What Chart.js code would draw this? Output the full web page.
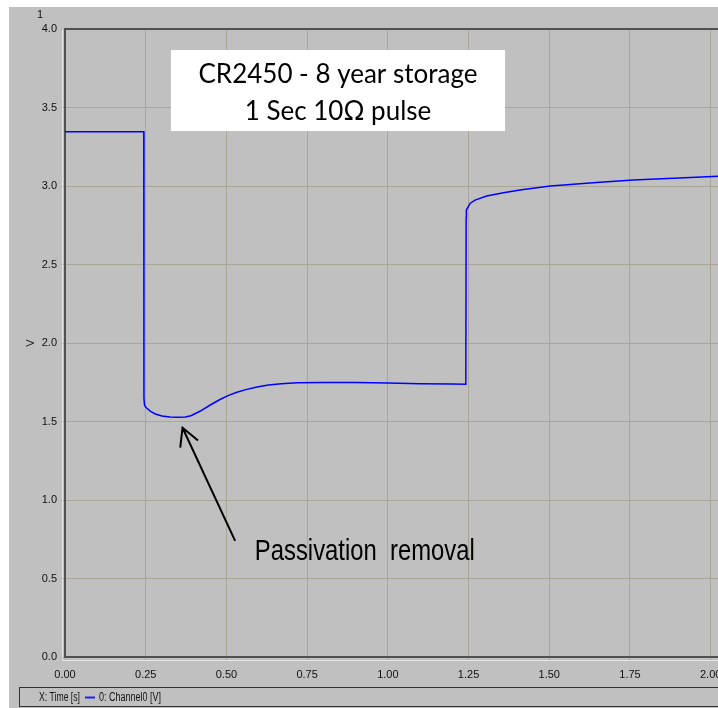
<!DOCTYPE html>
<html>
<head>
<meta charset="utf-8">
<script src="https://cdn.jsdelivr.net/npm/chart.js@4.4.1/dist/chart.umd.min.js"></script>
<style>
  html, body { margin: 0; padding: 0; background: #fff; overflow: hidden; }
</style>
</head>
<body>
<canvas id="pulseChart" width="718" height="708"></canvas>
<script>
// trace (time in s, voltage in V)
const timeS = [0, 0.244, 0.2445, 0.246, 0.2485, 0.253, 0.265, 0.28, 0.30, 0.325, 0.35, 0.372, 0.39, 0.418, 0.45, 0.48, 0.505, 0.53, 0.56, 0.595, 0.63, 0.67, 0.72, 0.80, 0.90, 1.00, 1.10, 1.20, 1.2415, 1.2425, 1.2433, 1.2546, 1.27, 1.306, 1.358, 1.409, 1.503, 1.657, 1.76, 1.884, 2.025];
const voltageV = [3.346, 3.346, 1.65, 1.61, 1.595, 1.586, 1.565, 1.548, 1.535, 1.528, 1.527, 1.529, 1.537, 1.565, 1.605, 1.64, 1.665, 1.685, 1.703, 1.72, 1.733, 1.741, 1.747, 1.748, 1.748, 1.745, 1.741, 1.739, 1.737, 2.80, 2.847, 2.889, 2.91, 2.936, 2.957, 2.975, 3.0, 3.024, 3.038, 3.049, 3.062];
const xTickValues = [0, 0.25, 0.5, 0.75, 1.0, 1.25, 1.5, 1.75, 2.0];
const yTickValues = [0, 0.5, 1.0, 1.5, 2.0, 2.5, 3.0, 3.5, 4.0];
const titleLines = ['CR2450 - 8 year storage', '1 Sec 10\u03A9 pulse'];
const noteText = 'Passivation  removal';

const bgGray = '#c0c0c0';
const gridColor = '#aaa696';
const tickFont = { family: '"Liberation Sans", Arial, sans-serif', size: 11 };

// draw text squeezed to a given width (the scope uses a narrow face)
function fitText(c, text, x, y, width) {
  const w = c.measureText(text).width;
  c.save();
  c.translate(x, y);
  c.scale(Math.min(1, width / w), 1);
  c.fillText(text, 0, 0);
  c.restore();
}

const scopeDecor = {
  id: 'scopeDecor',
  beforeDraw(chart) {
    const c = chart.ctx;
    c.save();
    c.fillStyle = '#fff';
    c.fillRect(0, 0, chart.width, chart.height);
    c.fillStyle = bgGray;
    c.fillRect(9, 7, chart.width - 9, chart.height - 7);
    c.restore();
  },
  beforeDatasetsDraw(chart) {
    const c = chart.ctx;
    const a = chart.chartArea;
    c.save();
    // light bevel lines
    c.strokeStyle = '#e4e4e4';
    c.lineWidth = 1;
    c.beginPath();
    c.moveTo(62.5, a.top);
    c.lineTo(62.5, a.bottom + 4);
    c.moveTo(62, a.bottom + 3.5);
    c.lineTo(a.right, a.bottom + 3.5);
    c.stroke();
    // dark frame
    c.strokeStyle = '#505050';
    c.lineWidth = 2;
    c.beginPath();
    c.moveTo(a.right, a.top);
    c.lineTo(a.left, a.top);
    c.lineTo(a.left, a.bottom);
    c.lineTo(a.right, a.bottom);
    c.stroke();
    c.restore();
  },
  afterDraw(chart) {
    const c = chart.ctx;
    const x = chart.scales.x, y = chart.scales.y;
    c.save();
    // corner marker
    c.fillStyle = '#111';
    c.font = '11px "Liberation Sans", Arial, sans-serif';
    c.textAlign = 'center';
    c.textBaseline = 'middle';
    c.fillText('1', 40, 15);

    // title box
    const bx0 = x.getPixelForValue(0.328), bx1 = x.getPixelForValue(1.363);
    const by0 = y.getPixelForValue(3.866), by1 = y.getPixelForValue(3.35);
    c.fillStyle = '#fff';
    c.fillRect(bx0, by0, bx1 - bx0, by1 - by0);
    c.fillStyle = '#000';
    c.font = '26px Lato, "Open Sans", sans-serif';
    c.textBaseline = 'alphabetic';
    const cx = (bx0 + bx1) / 2;
    c.fillText(titleLines[0], cx, y.getPixelForValue(3.655));
    c.fillText(titleLines[1], cx, y.getPixelForValue(3.42));

    // arrow
    const tx = x.getPixelForValue(0.364), ty = y.getPixelForValue(1.46);
    const sx = x.getPixelForValue(0.527), sy = y.getPixelForValue(0.74);
    c.strokeStyle = '#000';
    c.lineWidth = 2;
    c.beginPath();
    c.moveTo(sx, sy);
    c.lineTo(tx, ty);
    const ang = Math.atan2(sy - ty, sx - tx);
    const hl = 20;
    c.moveTo(tx + hl * Math.cos(ang - 0.45), ty + hl * Math.sin(ang - 0.45));
    c.lineTo(tx, ty);
    c.lineTo(tx + hl * Math.cos(ang + 0.55), ty + hl * Math.sin(ang + 0.55));
    c.stroke();

    // note text
    c.font = '29px "Liberation Sans", Arial, sans-serif';
    c.textAlign = 'left';
    fitText(c, noteText, x.getPixelForValue(0.588), y.getPixelForValue(0.618), 220);
    c.restore();

    // legend strip
    c.save();
    c.strokeStyle = '#333';
    c.lineWidth = 1;
    c.strokeRect(19.5, 687.5, 720, 19);
    c.font = '12px "Liberation Sans", Arial, sans-serif';
    c.fillStyle = '#111';
    c.textAlign = 'left';
    c.textBaseline = 'middle';
    fitText(c, 'X: Time [s]', 39, 697.5, 41);
    c.strokeStyle = '#2020ff';
    c.lineWidth = 2;
    c.beginPath();
    c.moveTo(85, 697.5);
    c.lineTo(95, 697.5);
    c.stroke();
    fitText(c, chart.data.datasets[0].label, 99, 697.5, 62);
    c.restore();
  }
};

new Chart(document.getElementById('pulseChart').getContext('2d'), {
  type: 'line',
  data: {
    datasets: [{
      label: '0: Channel0 [V]',
      data: timeS.map((t, i) => ({ x: t, y: voltageV[i] })),
      borderColor: '#0000ff',
      borderWidth: 1.5,
      pointRadius: 0,
      tension: 0,
      fill: false
    }]
  },
  options: {
    responsive: false,
    animation: false,
    devicePixelRatio: 1,
    layout: { padding: { top: 29, left: 0, right: 0, bottom: 0 } },
    plugins: { legend: { display: false }, tooltip: { enabled: false } },
    scales: {
      x: {
        type: 'linear',
        min: 0,
        max: 2.0226,
        afterBuildTicks: s => { s.ticks = xTickValues.map(v => ({ value: v })); },
        afterFit: s => { s.height = 51; s.paddingLeft = 0; s.paddingRight = 0; },
        ticks: {
          includeBounds: false,
          maxRotation: 0,
          autoSkip: false,
          padding: 7,
          color: '#111',
          font: tickFont,
          callback: v => Number(v).toFixed(2)
        },
        grid: { color: gridColor, lineWidth: 1, tickLength: 4 },
        border: { display: false }
      },
      y: {
        min: 0,
        max: 4.0,
        afterBuildTicks: s => { s.ticks = yTickValues.map(v => ({ value: v })); },
        afterFit: s => { s.width = 65; s.paddingTop = 0; s.paddingBottom = 0; },
        ticks: {
          includeBounds: false,
          autoSkip: false,
          padding: 4,
          color: '#111',
          font: tickFont,
          callback: v => Number(v).toFixed(1)
        },
        title: {
          display: true,
          text: 'V',
          color: '#222',
          font: { family: '"Liberation Sans", Arial, sans-serif', size: 11 },
          padding: { top: 24, bottom: 0 }
        },
        grid: { color: gridColor, lineWidth: 1, tickLength: 4 },
        border: { display: false }
      }
    }
  },
  plugins: [scopeDecor]
});
</script>
</body>
</html>
